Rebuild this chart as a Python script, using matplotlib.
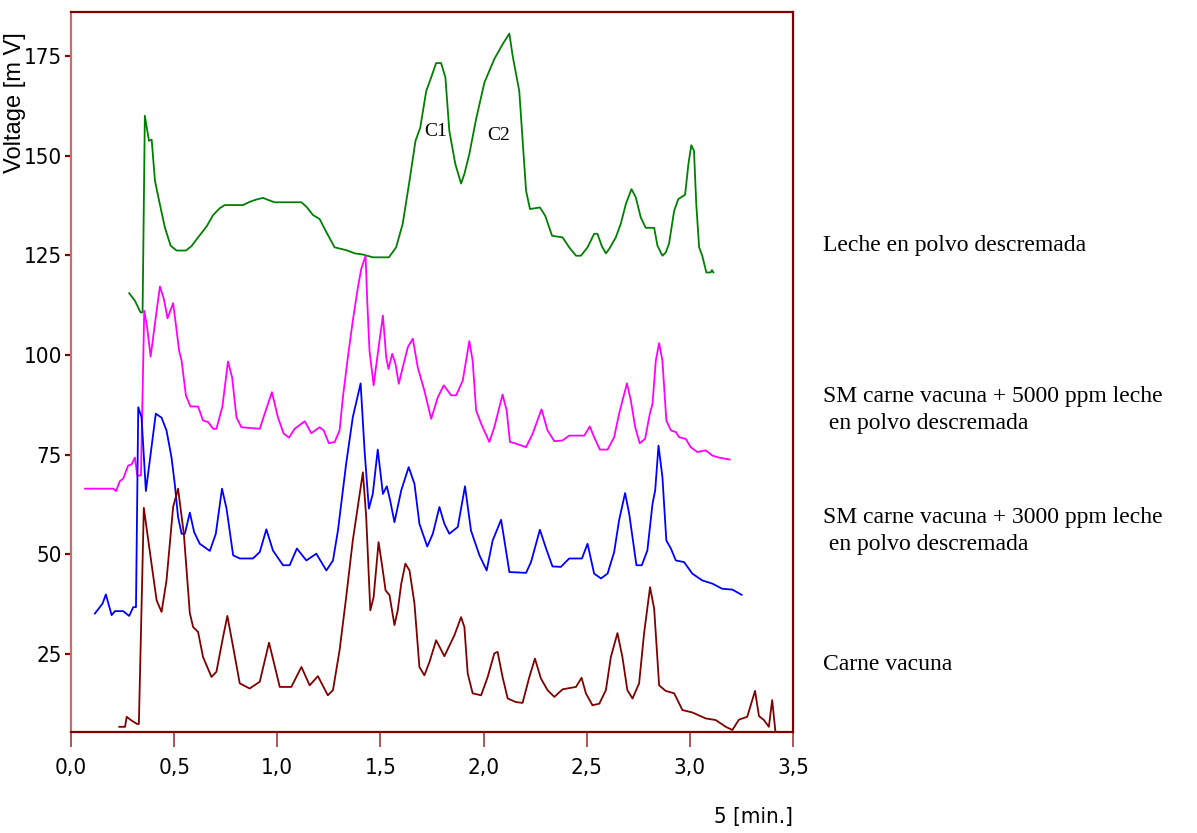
import matplotlib
matplotlib.use("Agg")
import matplotlib.pyplot as plt

# --- Chromatogram data (time in min, signal in mV) ---
carne_t = [0.234, 0.262, 0.270, 0.290, 0.321, 0.329, 0.353, 0.379, 0.415, 0.439,
           0.463, 0.495, 0.519, 0.547, 0.576, 0.592, 0.616, 0.640, 0.681, 0.705,
           0.737, 0.758, 0.786, 0.818, 0.866, 0.915, 0.960, 1.012, 1.068, 1.117,
           1.157, 1.197, 1.245, 1.270, 1.302, 1.334, 1.366, 1.415, 1.431, 1.451,
           1.467, 1.491, 1.509, 1.525, 1.544, 1.568, 1.584, 1.601, 1.621, 1.641,
           1.665, 1.689, 1.713, 1.738, 1.770, 1.810, 1.859, 1.891, 1.907, 1.923,
           1.947, 1.988, 2.020, 2.052, 2.068, 2.092, 2.117, 2.157, 2.189, 2.222,
           2.249, 2.278, 2.310, 2.343, 2.383, 2.448, 2.475, 2.496, 2.528, 2.561,
           2.593, 2.617, 2.649, 2.673, 2.697, 2.722, 2.754, 2.778, 2.807, 2.827,
           2.851, 2.883, 2.924, 2.964, 3.012, 3.077, 3.125, 3.174, 3.206, 3.238,
           3.278, 3.316, 3.335, 3.359, 3.383, 3.399, 3.416]
carne_v = [6.8, 6.8, 9.3, 8.5, 7.5, 7.5, 61.7, 51.9, 38.5, 35.6,
           43.5, 61.9, 66.5, 55.2, 35.3, 31.8, 30.6, 24.3, 19.3, 20.6,
           29.3, 34.6, 26.8, 17.7, 16.4, 18.1, 27.9, 16.8, 16.8, 21.8,
           17.2, 19.5, 14.7, 16.0, 26.0, 39.3, 53.5, 70.6, 59.4, 36.0,
           39.3, 53.1, 46.9, 41.0, 39.8, 32.3, 36.0, 42.7, 47.7, 46.0,
           37.7, 21.8, 19.7, 23.1, 28.5, 24.5, 29.8, 34.3, 31.8, 20.2,
           15.2, 14.7, 19.3, 25.2, 25.6, 19.3, 13.9, 13.0, 12.8, 19.3,
           23.9, 18.9, 16.0, 14.3, 16.2, 16.8, 19.1, 15.2, 12.2, 12.6,
           16.0, 24.3, 30.3, 24.3, 16.0, 13.9, 17.7, 30.2, 41.8, 36.4,
           17.2, 15.8, 15.2, 11.0, 10.4, 8.9, 8.5, 6.8, 6.0, 8.6,
           9.3, 15.8, 9.5, 8.5, 6.8, 13.5, 5.0]

sm3000_t = [0.116, 0.153, 0.169, 0.197, 0.213, 0.253, 0.282, 0.302, 0.315, 0.326,
            0.342, 0.363, 0.411, 0.439, 0.463, 0.487, 0.503, 0.519, 0.536, 0.552,
            0.576, 0.597, 0.624, 0.673, 0.702, 0.732, 0.754, 0.786, 0.818, 0.882,
            0.915, 0.947, 0.979, 1.028, 1.060, 1.095, 1.141, 1.189, 1.238, 1.270,
            1.294, 1.334, 1.366, 1.404, 1.423, 1.444, 1.463, 1.487, 1.512, 1.531,
            1.547, 1.568, 1.601, 1.637, 1.665, 1.689, 1.727, 1.754, 1.786, 1.810,
            1.834, 1.875, 1.910, 1.939, 1.980, 2.015, 2.044, 2.085, 2.101, 2.125,
            2.206, 2.230, 2.273, 2.303, 2.334, 2.375, 2.415, 2.477, 2.504, 2.536,
            2.569, 2.601, 2.633, 2.657, 2.686, 2.706, 2.741, 2.767, 2.794, 2.819,
            2.832, 2.848, 2.867, 2.886, 2.908, 2.932, 2.972, 3.012, 3.060, 3.109,
            3.157, 3.206, 3.251]
sm3000_v = [35.2, 37.7, 40.0, 34.8, 35.8, 35.8, 34.6, 36.8, 36.8, 86.9,
            84.4, 65.9, 85.3, 84.3, 81.1, 74.4, 67.7, 59.4, 55.2, 55.2,
            60.5, 55.6, 52.7, 50.9, 55.2, 66.5, 61.5, 49.8, 49.0, 49.0,
            50.6, 56.3, 51.0, 47.3, 47.3, 51.5, 48.5, 50.2, 46.0, 48.5,
            56.0, 72.8, 84.4, 92.9, 76.1, 61.5, 65.2, 76.3, 65.2, 67.1,
            63.6, 58.1, 66.1, 71.9, 67.7, 57.7, 52.0, 55.2, 61.9, 57.7,
            55.2, 56.9, 67.1, 56.0, 49.8, 46.0, 53.5, 58.7, 53.5, 45.6,
            45.4, 48.1, 56.2, 51.5, 47.0, 46.9, 49.0, 49.0, 52.7, 45.2,
            44.0, 45.2, 50.6, 58.6, 65.4, 60.2, 47.3, 47.3, 51.0, 62.7,
            66.1, 77.3, 69.4, 53.5, 51.5, 48.5, 48.1, 45.2, 43.5, 42.7,
            41.4, 41.2, 39.9]

sm5000_t = [0.068, 0.205, 0.218, 0.237, 0.253, 0.277, 0.294, 0.310, 0.321, 0.339,
            0.355, 0.369, 0.386, 0.411, 0.431, 0.450, 0.468, 0.495, 0.508, 0.524,
            0.536, 0.557, 0.579, 0.616, 0.640, 0.665, 0.689, 0.705, 0.734, 0.761,
            0.781, 0.802, 0.826, 0.915, 0.939, 0.974, 1.003, 1.031, 1.057, 1.084,
            1.133, 1.165, 1.205, 1.225, 1.250, 1.278, 1.302, 1.318, 1.342, 1.366,
            1.391, 1.407, 1.428, 1.436, 1.447, 1.467, 1.487, 1.512, 1.528, 1.539,
            1.557, 1.573, 1.589, 1.608, 1.633, 1.657, 1.681, 1.713, 1.746, 1.778,
            1.807, 1.843, 1.867, 1.899, 1.931, 1.947, 1.964, 1.988, 2.028, 2.052,
            2.092, 2.112, 2.128, 2.157, 2.206, 2.238, 2.281, 2.310, 2.343, 2.383,
            2.415, 2.488, 2.515, 2.536, 2.564, 2.601, 2.633, 2.657, 2.695, 2.714,
            2.735, 2.757, 2.783, 2.806, 2.819, 2.835, 2.851, 2.867, 2.886, 2.908,
            2.932, 2.948, 2.980, 3.004, 3.036, 3.077, 3.109, 3.141, 3.193]
sm5000_v = [66.5, 66.5, 65.9, 68.4, 69.0, 72.3, 72.6, 74.3, 69.8, 69.8,
            111.1, 107.0, 99.6, 109.5, 117.2, 114.1, 109.2, 113.0, 107.8, 101.1,
            98.6, 89.9, 87.1, 87.1, 83.6, 83.2, 81.5, 81.5, 87.1, 98.4,
            94.4, 84.4, 81.9, 81.5, 85.3, 90.7, 84.4, 80.3, 79.3, 81.5,
            83.4, 80.4, 81.9, 81.1, 77.9, 78.2, 81.1, 89.4, 99.4, 108.6,
            117.0, 121.6, 124.9, 113.6, 101.1, 92.4, 100.3, 109.9, 99.4, 96.5,
            100.3, 97.8, 92.8, 96.9, 102.0, 104.1, 96.9, 91.1, 84.0, 89.4,
            92.4, 89.9, 89.9, 93.6, 103.5, 98.6, 86.1, 82.8, 78.2, 81.9,
            90.1, 86.1, 78.2, 77.8, 76.9, 80.3, 86.4, 81.1, 78.4, 78.6,
            79.8, 79.8, 82.1, 79.4, 76.3, 76.3, 79.4, 85.3, 92.9, 88.6,
            81.9, 77.9, 79.0, 85.3, 87.8, 98.6, 103.0, 98.6, 83.6, 81.1,
            80.7, 79.4, 79.0, 76.9, 75.7, 76.1, 74.8, 74.3, 73.8]

leche_t = [0.282, 0.310, 0.337, 0.347, 0.358, 0.378, 0.391, 0.407, 0.427, 0.455,
           0.483, 0.512, 0.557, 0.584, 0.616, 0.657, 0.689, 0.721, 0.745, 0.834,
           0.866, 0.899, 0.931, 0.955, 0.987, 1.117, 1.141, 1.173, 1.205, 1.238,
           1.278, 1.334, 1.375, 1.415, 1.463, 1.541, 1.576, 1.608, 1.641, 1.670,
           1.693, 1.722, 1.746, 1.770, 1.794, 1.815, 1.834, 1.863, 1.891, 1.907,
           1.931, 1.964, 2.004, 2.052, 2.092, 2.125, 2.141, 2.173, 2.206, 2.225,
           2.273, 2.299, 2.332, 2.383, 2.415, 2.448, 2.472, 2.504, 2.536, 2.552,
           2.574, 2.593, 2.609, 2.641, 2.665, 2.690, 2.717, 2.738, 2.762, 2.786,
           2.827, 2.843, 2.867, 2.883, 2.899, 2.924, 2.944, 2.977, 2.993, 3.007,
           3.020, 3.031, 3.045, 3.060, 3.080, 3.101, 3.107, 3.114]
leche_v = [115.5, 113.6, 110.7, 110.7, 160.0, 153.7, 154.0, 143.7, 138.7, 132.0,
           127.4, 126.2, 126.2, 127.3, 129.5, 132.2, 135.1, 136.8, 137.6, 137.6,
           138.4, 139.0, 139.4, 138.9, 138.3, 138.3, 137.2, 135.1, 134.1, 130.8,
           127.0, 126.3, 125.5, 125.2, 124.5, 124.5, 127.0, 132.9, 143.7, 153.7,
           157.0, 166.2, 169.6, 173.2, 173.2, 169.6, 156.2, 147.9, 143.0, 145.4,
           150.4, 159.2, 168.3, 174.2, 177.9, 180.6, 175.0, 166.2, 141.2, 136.6,
           137.0, 134.9, 129.9, 129.5, 127.0, 124.9, 124.9, 127.0, 130.4, 130.4,
           127.2, 125.5, 126.6, 129.5, 132.9, 137.9, 141.6, 139.5, 134.5, 131.9,
           131.9, 127.4, 124.9, 125.7, 127.9, 136.2, 139.1, 140.2, 147.9, 152.6,
           151.2, 137.9, 127.0, 124.9, 120.7, 120.7, 121.3, 120.7]

x_ticks = [0.0, 0.5, 1.0, 1.5, 2.0, 2.5, 3.0, 3.5]
x_tick_labels = ["0,0", "0,5", "1,0", "1,5", "2,0", "2,5", "3,0", "3,5"]
y_ticks = [25, 50, 75, 100, 125, 150, 175]

series_labels = [
    "Leche en polvo descremada",
    "SM carne vacuna + 5000 ppm leche\n en polvo descremada",
    "SM carne vacuna + 3000 ppm leche\n en polvo descremada",
    "Carne vacuna",
]
peak_labels = ["C1", "C2"]
peak_t = [1.767, 2.072]
peak_v = [156.0, 155.0]

DARK_RED = "#800000"
SERIF = ["Liberation Serif", "DejaVu Serif"]
TICK_KW = dict(family="DejaVu Sans", stretch="condensed", fontsize=16)

fig = plt.figure(figsize=(11.97, 8.33), dpi=100)
ax = fig.add_axes([71 / 1197, 101 / 833, 722 / 1197, 720 / 833])

ax.plot(leche_t, leche_v, color="#008000", lw=1.3)
ax.plot(sm5000_t, sm5000_v, color="#ff00ff", lw=1.3)
ax.plot(sm3000_t, sm3000_v, color="#0000ff", lw=1.3)
ax.plot(carne_t, carne_v, color="#800000", lw=1.3)

for lab, t, v in zip(peak_labels, peak_t, peak_v):
    ax.text(t, v, lab, ha="center", va="center", fontsize=14, family=SERIF)

ax.set_xlim(0, 3.5)
ax.set_ylim(5.5, 186)

ax.set_xticks(x_ticks)
ax.set_xticklabels(x_tick_labels, **TICK_KW)
ax.set_yticks(y_ticks)
ax.set_yticklabels([str(v) for v in y_ticks], **TICK_KW)
ax.tick_params(axis="x", direction="out", length=11, width=1.2, color="#a03838", pad=8)
ax.tick_params(axis="y", direction="out", length=4.5, width=1.6, color=DARK_RED, pad=2)

for side in ["top", "bottom", "right"]:
    ax.spines[side].set_color(DARK_RED)
    ax.spines[side].set_linewidth(1.6)
ax.spines["left"].set_color("#c07070")
ax.spines["left"].set_linewidth(1.6)

# axis titles placed like the original instrument export
fig.text(15 / 1197, 1 - 103 / 833, "Voltage [m V]", rotation=90, ha="center", va="center",
         fontsize=17, family=["Liberation Sans", "DejaVu Sans"])
fig.text(793 / 1197, 1 - 817 / 833, "5 [min.]", ha="right", va="center", **TICK_KW)

# series names to the right of the plot
label_y = [245, 410, 531, 664]
for lab, y in zip(series_labels, label_y):
    fig.text(823 / 1197, 1 - y / 833, lab, ha="left", va="center", fontsize=17,
             family=SERIF, linespacing=1.4)

fig.savefig("out.png", dpi=100)
